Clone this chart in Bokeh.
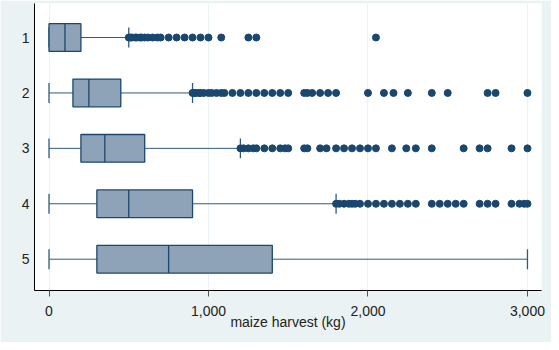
from bokeh.plotting import figure
from bokeh.models import Range1d, FixedTicker, NumeralTickFormatter, ColumnDataSource
from bokeh.embed import file_html
from bokeh.resources import INLINE

# ---- data ----
groups = ["1", "2", "3", "4", "5"]
q1 = [0, 150, 200, 300, 300]
median = [100, 250, 350, 500, 750]
q3 = [200, 450, 600, 900, 1400]
lower_whisker = [0, 0, 0, 0, 0]
upper_whisker = [500, 900, 1200, 1800, 3000]

outliers_1 = [500, 510, 520, 540, 550, 570, 580, 600, 620, 650, 680, 700, 750, 800,
              850, 900, 950, 1000, 1080, 1250, 1300, 2050]
outliers_2 = [900, 910, 920, 940, 950, 970, 1000, 1020, 1050, 1080, 1100, 1150, 1200,
              1250, 1300, 1350, 1400, 1450, 1500, 1600, 1620, 1650, 1700, 1750, 1800,
              2000, 2100, 2160, 2250, 2400, 2500, 2750, 2800, 3000]
outliers_3 = [1200, 1220, 1250, 1280, 1300, 1350, 1400, 1450, 1480, 1500, 1600, 1620,
              1700, 1740, 1800, 1850, 1900, 1950, 2000, 2050, 2150, 2240, 2300, 2400,
              2600, 2700, 2750, 2900, 3000]
outliers_4 = [1800, 1820, 1850, 1880, 1900, 1920, 1950, 2000, 2050, 2100, 2150, 2200,
              2250, 2300, 2400, 2450, 2500, 2550, 2600, 2700, 2750, 2800, 2900, 2950,
              2980, 3000]
outliers_5 = []
outliers = [outliers_1, outliers_2, outliers_3, outliers_4, outliers_5]

x_ticks = [0, 1000, 2000, 3000]
x_title = "maize harvest (kg)"

# ---- styling ----
NAVY = "#1a476f"
WHISK = "#2f5a80"
BOX_FILL = "#8fa3b8"
BG = "#eaf2f3"
FONT = "Liberation Sans"

ypos = [i + 1 for i in range(len(groups))]
box_h = 0.5
cap_h = 0.18

src = ColumnDataSource(dict(
    y=ypos, q1=q1, med=median, q3=q3, lo=lower_whisker, hi=upper_whisker,
    y_top=[y - box_h / 2 for y in ypos], y_bot=[y + box_h / 2 for y in ypos],
    c_top=[y - cap_h for y in ypos], c_bot=[y + cap_h for y in ypos],
))

p = figure(width=551, height=342,
           x_range=Range1d(-91, 3088), y_range=Range1d(5.565, 0.386),
           output_backend="svg", toolbar_location=None,
           min_border_left=34, min_border_right=10,
           min_border_top=3, min_border_bottom=52)
p.border_fill_color = BG
p.background_fill_color = "white"
p.outline_line_color = None

# grid
p.xgrid.ticker = FixedTicker(ticks=x_ticks)
p.xgrid.grid_line_color = BG
p.xgrid.grid_line_width = 1
p.ygrid.visible = False

# whiskers
p.segment(x0="q3", y0="y", x1="hi", y1="y", source=src, line_color=WHISK, line_width=1)
p.segment(x0="lo", y0="y", x1="q1", y1="y", source=src, line_color=WHISK, line_width=1)
p.segment(x0="hi", y0="c_top", x1="hi", y1="c_bot", source=src, line_color=WHISK, line_width=1.3)
p.segment(x0="lo", y0="c_top", x1="lo", y1="c_bot", source=src, line_color=WHISK, line_width=1.3)

# boxes
p.hbar(y="y", left="q1", right="q3", height=box_h, source=src,
       fill_color=BOX_FILL, line_color=NAVY, line_width=1.3)
p.segment(x0="med", y0="y_top", x1="med", y1="y_bot", source=src, line_color=NAVY, line_width=1.3)

# outliers
ox, oy = [], []
for y, vals in zip(ypos, outliers):
    ox.extend(vals)
    oy.extend([y] * len(vals))
p.scatter(x=ox, y=oy, size=7, fill_color=NAVY, line_color=NAVY)

# x axis
p.xaxis.ticker = FixedTicker(ticks=x_ticks)
p.xaxis.formatter = NumeralTickFormatter(format="0,0")
p.xaxis.axis_label = x_title
p.xaxis.axis_label_text_font = FONT
p.xaxis.axis_label_text_font_style = "normal"
p.xaxis.axis_label_text_font_size = "14px"
p.xaxis.axis_label_text_color = "#222222"
p.xaxis.axis_label_standoff = -5
p.xaxis.major_label_text_font = FONT
p.xaxis.major_label_text_font_size = "14px"
p.xaxis.major_label_text_color = "#222222"
p.xaxis.major_label_standoff = 9
p.xaxis.major_tick_in = 0
p.xaxis.major_tick_out = 6
p.xaxis.major_tick_line_color = "#555555"
p.xaxis.minor_tick_line_color = None
p.xaxis.axis_line_color = "black"

# y axis
p.yaxis.ticker = FixedTicker(ticks=ypos)
p.yaxis.major_label_overrides = {y: g for y, g in zip(ypos, groups)}
p.yaxis.major_label_text_font = FONT
p.yaxis.major_label_text_font_size = "14px"
p.yaxis.major_label_text_color = "#222222"
p.yaxis.major_label_standoff = 5
p.yaxis.major_tick_in = 0
p.yaxis.major_tick_out = 0
p.yaxis.minor_tick_line_color = None
p.yaxis.axis_line_color = "black"

open("out.html", "w").write(file_html(p, INLINE))
